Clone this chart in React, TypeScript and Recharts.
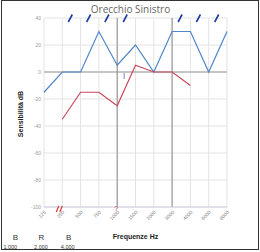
import { LineChart, Line, XAxis, YAxis, CartesianGrid, ReferenceLine } from "recharts";

const FREQS = ["125", "250", "500", "750", "1000", "1500", "2000", "3000", "4000", "6000", "8000"];
const BLUE_DB = [-15, 0, 0, 30, 5, 20, 0, 30, 30, 0, 30];
const RED_DB = [null, -35, -15, -15, -25, 5, 0, 0, -10, null, null];
// simboli sopra/sotto il grafico
const BLUE_MARKS = [null, 40, 40, 40, 40, null, null, 40, 40, 40, null];
const RED_MARKS = [null, -100, null, null, -100, null, null, null, null, null, null];
const RED_MARK_TEXT = ["", "//", "", "", "?", "", "", "", "", "", ""];
const PURPLE_MARKS = [null, null, null, null, 0, null, null, null, null, null, null];
const Y_TICKS = [40, 20, 0, -20, -40, -60, -80, -100];
const LEGEND_LETTERS = ["B", "R", "B"];
const LEGEND_VALUES = ["1.000", "2.000", "4.000"];

const BLUE = "#4f86c6";
const RED = "#c9485b";
const FONT = "'Liberation Sans', Arial, sans-serif";

const data = FREQS.map((f, i) => ({
  freq: f,
  blue: BLUE_DB[i],
  red: RED_DB[i],
  blueMark: BLUE_MARKS[i],
  redMark: RED_MARKS[i],
  redText: RED_MARK_TEXT[i],
  purple: PURPLE_MARKS[i],
}));

const slashDot = (p: any) => {
  if (p.value == null || p.cy == null) return <g key={`b${p.index}`} />;
  return (
    <line key={`b${p.index}`} x1={p.cx + 6} y1={p.cy + 4} x2={p.cx + 10} y2={p.cy - 3.5}
      stroke="#1f3c9c" strokeWidth={1.6} />
  );
};

const redDot = (p: any) => {
  if (p.value == null || p.cy == null) return <g key={`r${p.index}`} />;
  const txt = p.payload.redText;
  if (txt === "//") {
    return (
      <g key={`r${p.index}`} stroke="#d03a3a" strokeWidth={1.2}>
        <line x1={p.cx - 6} y1={p.cy + 5} x2={p.cx - 3.5} y2={p.cy - 1} />
        <line x1={p.cx - 2.5} y1={p.cy + 5} x2={p.cx} y2={p.cy - 1} />
      </g>
    );
  }
  return (
    <text key={`r${p.index}`} x={p.cx - 1} y={p.cy + 3.5} fontSize={7} fill="#d03a3a"
      textAnchor="middle" fontFamily={FONT}>{txt}</text>
  );
};

const purpleDot = (p: any) => {
  if (p.value == null || p.cy == null) return <g key={`p${p.index}`} />;
  return (
    <line key={`p${p.index}`} x1={p.cx + 7} y1={p.cy + 1} x2={p.cx + 7} y2={p.cy + 7}
      stroke="#a898d8" strokeWidth={1.3} />
  );
};

const tickStyle = { fontSize: 5, fill: "#9a9a9a", fontFamily: FONT };

export default function App() {
  return (
    <div style={{ position: "absolute", left: 0, top: 0, width: 260, height: 252, background: "#fff" }}>
      <LineChart width={260} height={252} data={data} margin={{ top: 18, right: 0, bottom: 25, left: 0 }}>
        <CartesianGrid stroke="#e3e3e3" yAxisId="left" />
        <XAxis dataKey="freq" interval={0} height={20} tickLine={false} tickSize={0} tickMargin={3}
          axisLine={{ stroke: "#d0d0e6" }}
          tick={{ ...tickStyle, fontSize: 5, fill: "#808080", angle: -45, textAnchor: "end" }} />
        <YAxis yAxisId="left" width={44} domain={[-100, 40]} ticks={Y_TICKS} interval={0}
          axisLine={false} tickLine={false} tickSize={0} tickMargin={3} tick={tickStyle} />
        <YAxis yAxisId="right" orientation="right" width={33} domain={[-100, 40]} ticks={Y_TICKS}
          interval={0} axisLine={false} tickLine={false} tickSize={0} tickMargin={3} tick={tickStyle} />
        <ReferenceLine yAxisId="left" y={0} stroke="#999" />
        <ReferenceLine yAxisId="left" x="1000" stroke="#8a8a8a" />
        <ReferenceLine yAxisId="left" x="3000" stroke="#8a8a8a" />
        <Line yAxisId="left" dataKey="blue" stroke={BLUE} strokeWidth={1.2} dot={false}
          isAnimationActive={false} />
        <Line yAxisId="left" dataKey="red" stroke={RED} strokeWidth={1.2} dot={false}
          isAnimationActive={false} />
        <Line yAxisId="left" dataKey="blueMark" stroke="none" dot={slashDot} activeDot={false}
          isAnimationActive={false} />
        <Line yAxisId="left" dataKey="redMark" stroke="none" dot={redDot} activeDot={false}
          isAnimationActive={false} />
        <Line yAxisId="left" dataKey="purple" stroke="none" dot={purpleDot} activeDot={false}
          isAnimationActive={false} />
      </LineChart>
      <svg width={260} height={252} style={{ position: "absolute", left: 0, top: 0, pointerEvents: "none" }}>
        <rect x={1.5} y={0.5} width={257} height={249} fill="none" stroke="#333" />
        <text x={130.5} y={12.5} fontSize={10} fill="#666" textAnchor="middle" fontFamily="'Open Sans', sans-serif">
          Orecchio Sinistro
        </text>
        <text x={20.5} y={114} fontSize={7} fontWeight="bold" fill="#222" textAnchor="middle"
          dominantBaseline="central" transform="rotate(-90 20.5 114)" fontFamily={FONT}>
          Sensibilità dB
        </text>
        <text x={135.5} y={239} fontSize={7} fontWeight="bold" fill="#222" textAnchor="middle" fontFamily={FONT}>
          Frequenze Hz
        </text>
        {LEGEND_LETTERS.map((l, i) => (
          <text key={`l${i}`} x={[15.3, 41.3, 68.7][i]} y={240} fontSize={8} fill="#333"
            textAnchor="middle" fontFamily={FONT}>{l}</text>
        ))}
        {LEGEND_VALUES.map((v, i) => (
          <text key={`v${i}`} x={[10.3, 41, 67.7][i]} y={248.5} fontSize={5.5} fill="#333"
            textAnchor="middle" fontFamily={FONT}>{v}</text>
        ))}
      </svg>
    </div>
  );
}
